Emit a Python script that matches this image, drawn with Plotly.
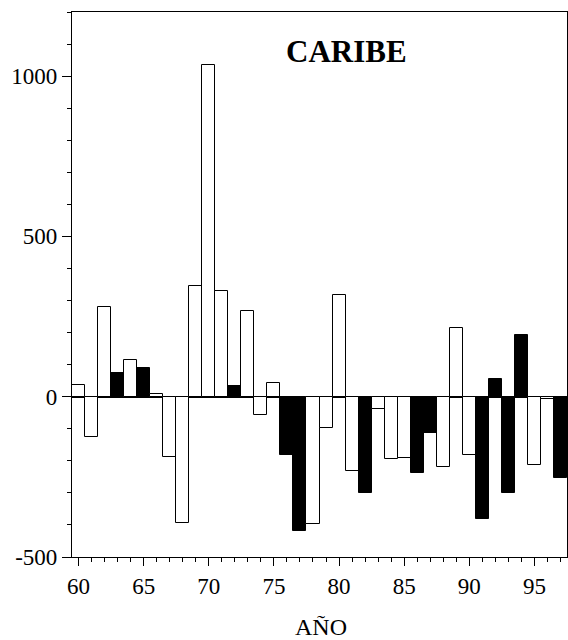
import plotly.graph_objects as go

years = list(range(60, 98))
values = [35, -126, 280, 74, 114, 90, 7, -189, -394, 346,
          1036, 329, 32, 268, -57, 44, -181, -418, -397, -99,
          318, -231, -301, -39, -195, -192, -237, -113, -220, 213,
          -181, -380, 54, -301, 192, -214, -6, -254]
shade = ["w", "w", "w", "b", "w", "b", "w", "w", "w", "w",
         "w", "w", "b", "w", "w", "w", "b", "b", "w", "w",
         "w", "w", "b", "w", "w", "w", "b", "b", "w", "w",
         "w", "b", "b", "b", "b", "w", "w", "b"]
ytick_vals = [-500, 0, 500, 1000]
ytick_text = ["-500", "0", "500", "1000"]
xtick_vals = [60, 65, 70, 75, 80, 85, 90, 95]
xtick_text = ["60", "65", "70", "75", "80", "85", "90", "95"]
title_text = "CARIBE"
xlabel = "AÑO"

FONT = "Liberation Serif"
fills = ["black" if s == "b" else "white" for s in shade]

fig = go.Figure(go.Bar(
    x=years, y=values, width=1.0,
    marker=dict(color=fills, line=dict(color="black", width=1)),
    showlegend=False,
))

fig.update_layout(
    width=568, height=640,
    margin=dict(l=72, r=1, t=12, b=83),
    plot_bgcolor="white", paper_bgcolor="white",
    font=dict(family=FONT, size=23, color="black"),
    bargap=0,
    annotations=[
        dict(text="<b>%s</b>" % title_text, xref="paper", yref="paper",
             x=0.554, y=0.927, showarrow=False, xanchor="center", yanchor="middle",
             font=dict(family=FONT, size=31, color="black")),
        dict(text=xlabel, xref="paper", yref="paper",
             x=0.504, y=-0.128, showarrow=False, xanchor="center", yanchor="middle",
             font=dict(family=FONT, size=24, color="black")),
    ],
)

fig.update_xaxes(
    range=[59.5, 97.5], tickmode="array", tickvals=xtick_vals, ticktext=xtick_text,
    ticks="outside", ticklen=8, tickwidth=1, tickcolor="black",
    minor=dict(dtick=1, tick0=60, ticks="outside", ticklen=4, tickwidth=1, tickcolor="black"),
    showline=True, linecolor="black", linewidth=1.2, mirror=True,
    showgrid=False, zeroline=False,
    tickfont=dict(family=FONT, size=23, color="black"),
)
fig.update_yaxes(
    range=[-500, 1200], tickmode="array", tickvals=ytick_vals, ticktext=ytick_text,
    ticks="outside", ticklen=9, tickwidth=1, tickcolor="black",
    minor=dict(dtick=100, tick0=0, ticks="outside", ticklen=4, tickwidth=1, tickcolor="black"),
    showline=True, linecolor="black", linewidth=1.2, mirror=True,
    showgrid=False, zeroline=True, zerolinecolor="black", zerolinewidth=1.5,
    tickfont=dict(family=FONT, size=23, color="black"),
)

fig.write_html("out.html")
